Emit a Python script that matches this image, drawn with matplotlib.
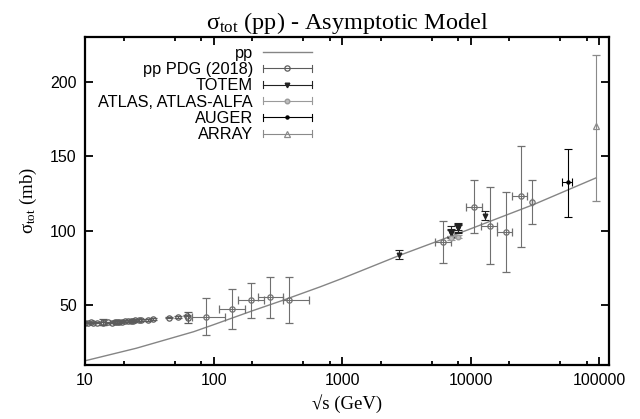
import matplotlib
matplotlib.use('Agg')
import matplotlib.pyplot as plt
from matplotlib.ticker import LogLocator, NullFormatter, FixedLocator
from matplotlib.legend_handler import HandlerBase
from matplotlib.container import ErrorbarContainer
from matplotlib.lines import Line2D
import numpy as np

# model curve
model_sqrt_s = [10, 25, 70, 100, 200, 350, 676, 1000, 2840, 9400, 31000, 95000]
model_sigma = [12.8, 21.2, 32.3, 37.0, 46.3, 53.5, 62.4, 68.0, 83.7, 100.4, 117.6, 135.5]

# PDG accelerator points (low energy)
pdg_sqrt_s = [10.0, 10.6, 11.1, 11.5, 12.3, 13.8, 13.8, 15.1, 16.2, 17.0, 17.7, 18.3,
              19.4, 20.5, 21.7, 22.9, 23.5, 24.3, 26.4, 27.4, 30.6, 34.0, 44.7, 52.8,
              62.5, 62.7]
pdg_sigma = [38.4, 38.2, 38.5, 38.3, 38.4, 38.9, 38.0, 38.5, 38.4, 38.7, 38.9, 39.0,
             39.0, 39.3, 39.5, 39.8, 39.6, 40.0, 40.1, 40.3, 40.3, 40.6, 41.7, 42.2,
             43.0, 41.8]
pdg_err = [0.5, 0.4, 0.5, 0.4, 0.5, 2.0, 1.0, 0.5, 0.5, 0.6, 1.5, 0.6,
           0.5, 0.8, 0.6, 0.5, 0.6, 0.7, 0.5, 0.6, 0.5, 0.6, 0.4, 0.4,
           0.4, 3.9]

# PDG cosmic-ray points, with energy bins
cr_sqrt_s = [87, 139, 195, 276, 385, 6140, 10700, 14100, 18700, 24700, 30100]
cr_sigma = [42.4, 47.5, 53.3, 55.3, 53.5, 92.4, 116.0, 103.1, 99.3, 123.2, 119.0]
cr_sigma_hi = [54.7, 60.7, 65.1, 69.2, 68.7, 106.4, 133.9, 129.0, 126.0, 157.0, 133.9]
cr_sigma_lo = [30.0, 33.9, 41.7, 41.7, 37.9, 78.1, 98.2, 77.4, 72.1, 89.2, 104.2]
cr_x_lo = [68, 110, 154, 221, 347, 5250, 9200, 12100, 16100, 20900, 30100]
cr_x_hi = [122, 174, 245, 347, 550, 7080, 12300, 16100, 20900, 27400, 30100]

totem_sqrt_s = [2760, 7000, 7000, 7000, 8000, 8000, 8000, 13000]
totem_sigma = [84.0, 98.3, 98.6, 99.1, 101.7, 101.5, 102.9, 110.0]
totem_err = [3.0, 2.8, 2.2, 4.3, 2.9, 2.1, 2.3, 3.0]

atlas_sqrt_s = [7000, 8000]
atlas_sigma = [95.4, 96.1]
atlas_err = [1.4, 0.9]

auger_sqrt_s = [57000]
auger_sigma = [132.5]
auger_err_lo = [23.0]
auger_err_hi = [22.5]
auger_x_lo = [51000]
auger_x_hi = [62000]

array_sqrt_s = [95000]
array_sigma = [170.0]
array_err_lo = [50.0]
array_err_hi = [48.0]


class GnuplotErrHandler(HandlerBase):
    # key sample like gnuplot: |---o---|
    def create_artists(self, legend, orig_handle, xdescent, ydescent,
                       width, height, fontsize, trans):
        line = orig_handle.lines[0]
        c = line.get_color()
        y = height / 2 - ydescent
        x0, x1 = -xdescent, width - xdescent
        h = height * 0.3
        arts = [Line2D([x0, x1], [y, y], color=c, lw=0.8),
                Line2D([x0, x0], [y - h, y + h], color=c, lw=0.8),
                Line2D([x1, x1], [y - h, y + h], color=c, lw=0.8),
                Line2D([(x0 + x1) / 2], [y], ls='none', marker=line.get_marker(),
                       ms=line.get_markersize(), mfc=line.get_markerfacecolor(),
                       mec=line.get_markeredgecolor(), mew=line.get_markeredgewidth())]
        for a in arts:
            a.set_transform(trans)
        return arts


plt.rcParams['mathtext.fontset'] = 'custom'
plt.rcParams['mathtext.rm'] = 'Liberation Serif'
plt.rcParams['mathtext.it'] = 'Liberation Serif:italic'

fig = plt.figure(figsize=(6.4, 4.19), dpi=100)
ax = fig.add_axes([0.133, 0.129, 0.819, 0.783])

serif = ['Liberation Serif', 'DejaVu Serif']
sans = ['Liberation Sans', 'DejaVu Sans']

ebkw = dict(elinewidth=0.8, capsize=3, capthick=0.8, ls='none')

ax.plot(model_sqrt_s, model_sigma, color='#858585', lw=1.0, label='pp')

pdg_c = '#5c5c5c'
h_pdg = ax.errorbar(pdg_sqrt_s, pdg_sigma, yerr=pdg_err, color=pdg_c, marker='o',
                    ms=3.8, mfc='none', mew=0.9, label='pp PDG (2018)', **ebkw)
ax.errorbar(cr_sqrt_s, cr_sigma,
            yerr=[np.subtract(cr_sigma, cr_sigma_lo), np.subtract(cr_sigma_hi, cr_sigma)],
            xerr=[np.subtract(cr_sqrt_s, cr_x_lo), np.subtract(cr_x_hi, cr_sqrt_s)],
            color='#707070', marker='o', ms=3.8, mfc='none', mew=0.9, **ebkw)

ax.errorbar(totem_sqrt_s, totem_sigma, yerr=totem_err, color='#222222', marker='v',
            ms=3.3, label='TOTEM', **ebkw)
ax.errorbar(atlas_sqrt_s, atlas_sigma, yerr=atlas_err, color='#9a9a9a', marker='o',
            ms=3.3, mfc='#bdbdbd', label='ATLAS, ATLAS-ALFA', **ebkw)
ax.errorbar(auger_sqrt_s, auger_sigma, yerr=[auger_err_lo, auger_err_hi],
            xerr=[np.subtract(auger_sqrt_s, auger_x_lo), np.subtract(auger_x_hi, auger_sqrt_s)],
            color='black', marker='o', ms=2.2, label='AUGER', **ebkw)
ax.errorbar(array_sqrt_s, array_sigma, yerr=[array_err_lo, array_err_hi], color='#8a8a8a',
            marker='^', ms=3.8, mfc='none', mew=0.9, label='ARRAY', **ebkw)

ax.set_xscale('log')
ax.set_xlim(10, 1.2e5)
ax.set_ylim(10, 230)
ax.xaxis.set_major_locator(FixedLocator([10, 100, 1000, 10000, 100000]))
ax.set_xticklabels(['10', '100', '1000', '10000', '100000'])
ax.xaxis.set_minor_locator(LogLocator(base=10, subs=(2, 5, 8)))
ax.xaxis.set_minor_formatter(NullFormatter())
ax.set_yticks([50, 100, 150, 200])
for lab in ax.get_xticklabels() + ax.get_yticklabels():
    lab.set_family(sans)
    lab.set_fontsize(11.5)

ax.tick_params(which='both', direction='in', top=True, right=True, width=1.3)
ax.tick_params(which='major', length=5.5, pad=6)
ax.tick_params(which='minor', length=2.8)
for s in ax.spines.values():
    s.set_linewidth(1.6)

ax.set_title(r'σ$_{\rm tot}$ (pp) - Asymptotic Model', family=serif, fontsize=17.5, pad=6)
ax.set_xlabel('√s (GeV)', family=serif, fontsize=13.5, labelpad=4)
ax.set_ylabel(r'σ$_{\rm tot}$ (mb)', family=serif, fontsize=13.5, labelpad=8)

leg = ax.legend(loc='upper right', bbox_to_anchor=(0.433, 0.973), frameon=False,
                markerfirst=False, handlelength=3.0, handletextpad=0.6,
                labelspacing=0.08, borderpad=0, borderaxespad=0,
                prop={'family': sans, 'size': 11.8},
                handler_map={ErrorbarContainer: GnuplotErrHandler()})

fig.savefig('out.png', dpi=100)
